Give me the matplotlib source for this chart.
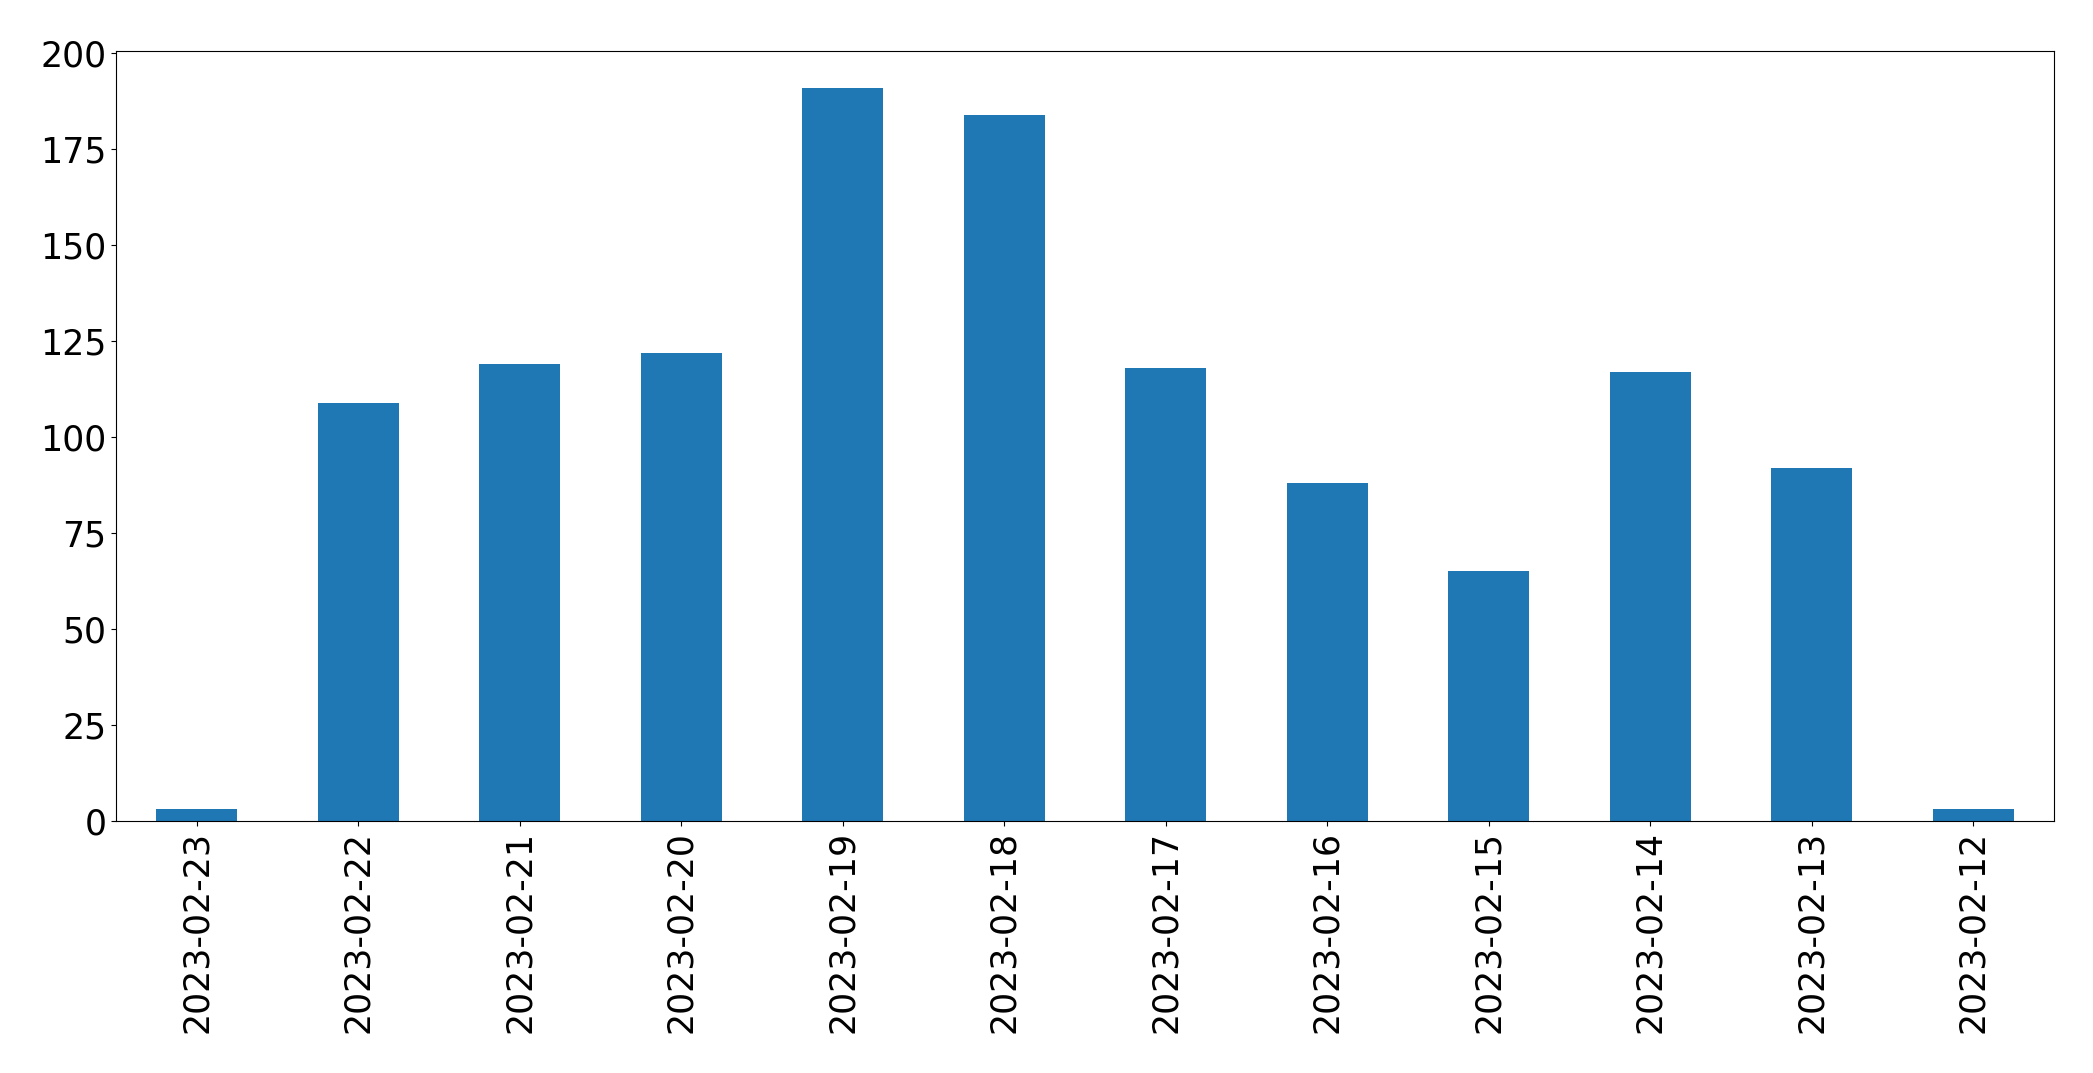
import matplotlib
matplotlib.use("Agg")
import matplotlib.pyplot as plt
import numpy as np

dates = ["2023-02-23", "2023-02-22", "2023-02-21", "2023-02-20", "2023-02-19", "2023-02-18",
         "2023-02-17", "2023-02-16", "2023-02-15", "2023-02-14", "2023-02-13", "2023-02-12"]
counts = [3, 109, 119, 122, 191, 184, 118, 88, 65, 117, 92, 3]

fig = plt.figure(figsize=(20.93, 10.73), dpi=100)
ax = fig.add_axes([116/2093, 1-821/1073, (2054-116)/2093, (821-51)/1073])
x = np.arange(len(dates))
ax.bar(x, counts, width=0.5, color="#1f77b4")
ax.set_xlim(-0.5, len(dates) - 0.5)
ax.set_ylim(0, max(counts) * 1.05)
ax.set_xticks(x)
ax.set_xticklabels(dates, rotation=90)
ax.set_yticks(np.arange(0, 201, 25))
ax.tick_params(labelsize=25)
fig.savefig("out.png", dpi=100)
